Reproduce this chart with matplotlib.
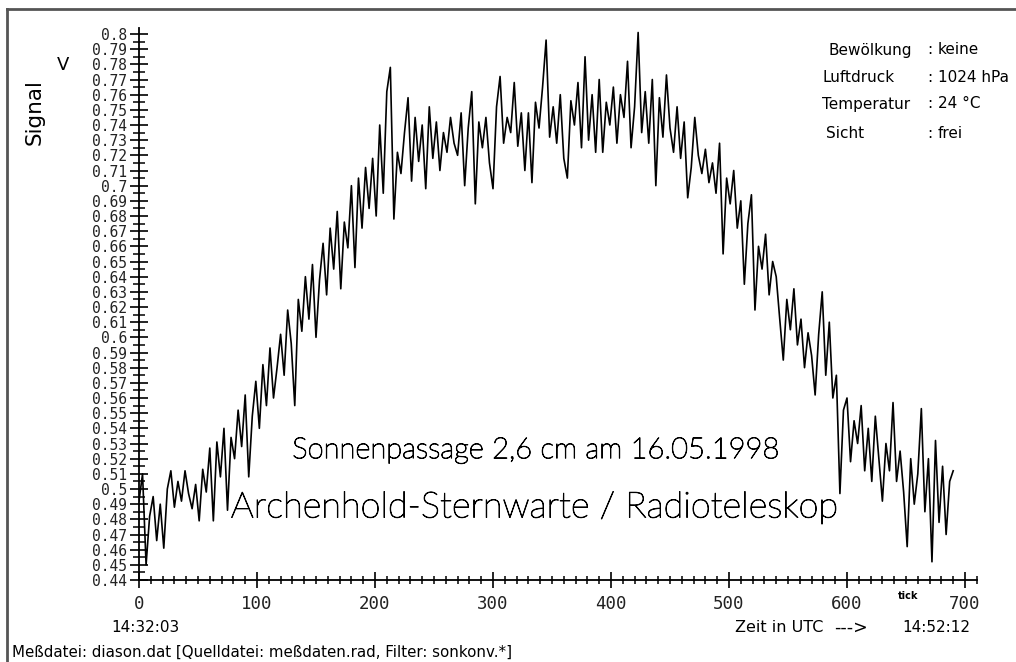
import numpy as np
import matplotlib.pyplot as plt
import matplotlib.patheffects as pe
from matplotlib.ticker import MultipleLocator, FuncFormatter
from matplotlib.lines import Line2D

signal = [
    0.492, 0.510, 0.450, 0.482, 0.495, 0.466, 0.490, 0.461, 0.500, 0.512,
    0.488, 0.505, 0.492, 0.512, 0.497, 0.487, 0.503, 0.479, 0.513, 0.498,
    0.527, 0.479, 0.531, 0.508, 0.540, 0.486, 0.534, 0.520, 0.552, 0.528,
    0.562, 0.508, 0.548, 0.571, 0.540, 0.582, 0.555, 0.593, 0.560, 0.580,
    0.602, 0.575, 0.618, 0.596, 0.555, 0.625, 0.604, 0.640, 0.612, 0.648,
    0.600, 0.638, 0.662, 0.628, 0.672, 0.645, 0.683, 0.632, 0.676, 0.659,
    0.700, 0.646, 0.705, 0.672, 0.712, 0.685, 0.718, 0.680, 0.740, 0.695,
    0.762, 0.778, 0.678, 0.722, 0.708, 0.735, 0.758, 0.703, 0.745, 0.716,
    0.740, 0.698, 0.752, 0.718, 0.742, 0.710, 0.735, 0.722, 0.745, 0.728,
    0.720, 0.748, 0.700, 0.738, 0.762, 0.688, 0.742, 0.725, 0.745, 0.715,
    0.698, 0.752, 0.772, 0.728, 0.745, 0.735, 0.768, 0.726, 0.748, 0.710,
    0.748, 0.702, 0.755, 0.738, 0.765, 0.796, 0.732, 0.752, 0.728, 0.760,
    0.718, 0.705, 0.756, 0.740, 0.768, 0.725, 0.785, 0.730, 0.760, 0.722,
    0.770, 0.722, 0.755, 0.740, 0.765, 0.728, 0.760, 0.745, 0.782, 0.725,
    0.752, 0.801, 0.735, 0.762, 0.728, 0.770, 0.700, 0.758, 0.732, 0.773,
    0.738, 0.722, 0.752, 0.718, 0.742, 0.692, 0.712, 0.745, 0.720, 0.708,
    0.724, 0.702, 0.715, 0.695, 0.728, 0.655, 0.705, 0.688, 0.710, 0.672,
    0.690, 0.635, 0.675, 0.694, 0.618, 0.660, 0.645, 0.668, 0.628, 0.650,
    0.640, 0.612, 0.585, 0.625, 0.605, 0.632, 0.595, 0.612, 0.580, 0.603,
    0.588, 0.562, 0.602, 0.630, 0.575, 0.610, 0.560, 0.575, 0.497, 0.552,
    0.560, 0.518, 0.545, 0.530, 0.555, 0.512, 0.540, 0.505, 0.548, 0.520,
    0.492, 0.530, 0.512, 0.557, 0.505, 0.525, 0.498, 0.462, 0.520, 0.490,
    0.510, 0.553, 0.485, 0.520, 0.452, 0.532, 0.478, 0.515, 0.470, 0.505,
    0.512,
]
ticks = np.arange(len(signal)) * 3

wetter_labels = ["Bewölkung", "Luftdruck", "Temperatur", "Sicht"]
wetter_werte = ["keine", "1024 hPa", "24 °C", "frei"]

W, H = 1016, 662


def fx(x):
    return x / W


def fy(y):
    return 1 - y / H


fig = plt.figure(figsize=(W / 100, H / 100), dpi=100)

# Achsen so gelegt, dass 0 -> px 139, 0.44 -> px 580, 0.8 -> px 34
ppx = 1.18
ppy = 546 / 0.36
ax = fig.add_axes([fx(139), fy(580), 710 * ppx / W, 0.364 * ppy / H])
ax.plot(ticks, signal, color="black", lw=1.2)
ax.set_xlim(0, 710)
ax.set_ylim(0.44, 0.804)

for s in ["top", "right"]:
    ax.spines[s].set_visible(False)
for s in ["left", "bottom"]:
    ax.spines[s].set_linewidth(1.3)

mono = "DejaVu Sans Mono"
ax.xaxis.set_major_locator(MultipleLocator(100))
ax.xaxis.set_minor_locator(MultipleLocator(10))
ax.yaxis.set_major_locator(MultipleLocator(0.01))
ax.yaxis.set_minor_locator(MultipleLocator(0.005))
ax.yaxis.set_major_formatter(FuncFormatter(lambda v, p: f"{round(v, 2):g}"))
ax.tick_params(axis="x", which="major", direction="inout", length=11, width=1.2,
               pad=5, labelsize=12.5)
ax.tick_params(axis="x", which="minor", direction="inout", length=6, width=1.1)
ax.tick_params(axis="y", which="major", direction="inout", length=13, width=1.2,
               pad=2, labelsize=10.5)
ax.tick_params(axis="y", which="minor", direction="inout", length=8, width=1.1)
for lab in ax.get_xticklabels() + ax.get_yticklabels():
    lab.set_family(mono)
    lab.set_color("#222222")

# Rahmen links und oben
fig.add_artist(Line2D([fx(7), fx(7)], [fy(9), 0], color="#555555", lw=2))
fig.add_artist(Line2D([fx(7), 1], [fy(9), fy(9)], color="#555555", lw=2))

fig.text(fx(35), fy(112), "Signal", rotation=90, fontsize=15.5, ha="center", va="center")
fig.text(fx(63), fy(65), "V", fontsize=13, ha="center", va="center")

ys = [50, 77, 104, 134]
xs = [828, 822, 822, 826]
for lab, val, y, x in zip(wetter_labels, wetter_werte, ys, xs):
    fig.text(fx(x), fy(y), lab, fontsize=11, ha="left", va="center")
    fig.text(fx(930), fy(y), ":", fontsize=11, ha="center", va="center")
    fig.text(fx(938), fy(y), val, fontsize=11, ha="left", va="center")

thin = [pe.withStroke(linewidth=0.7, foreground="black")]
fig.text(fx(535), fy(450), "Sonnenpassage 2,6 cm am 16.05.1998", fontsize=21,
         ha="center", va="center", family="Lato", weight="light", color="black",
         path_effects=thin)
fig.text(fx(535), fy(508), "Archenhold-Sternwarte / Radioteleskop", fontsize=26,
         ha="center", va="center", family="Lato", weight="light", color="black",
         path_effects=thin)

fig.text(fx(908), fy(596), "tick", fontsize=7, weight="bold", ha="center", va="center")
fig.text(fx(145), fy(628), "14:32:03", fontsize=11, ha="center", va="center")
fig.text(fx(735), fy(628), "Zeit in UTC", fontsize=11.5, ha="left", va="center")
fig.text(fx(834), fy(628), "--->", fontsize=12.5, ha="left", va="center")
fig.text(fx(970), fy(628), "14:52:12", fontsize=11, ha="right", va="center")
fig.text(fx(12), fy(652), "Meßdatei: diason.dat [Quelldatei: meßdaten.rad, Filter: sonkonv.*]",
         fontsize=10.8, ha="left", va="center")

fig.savefig("out.png", dpi=100, facecolor="white")
